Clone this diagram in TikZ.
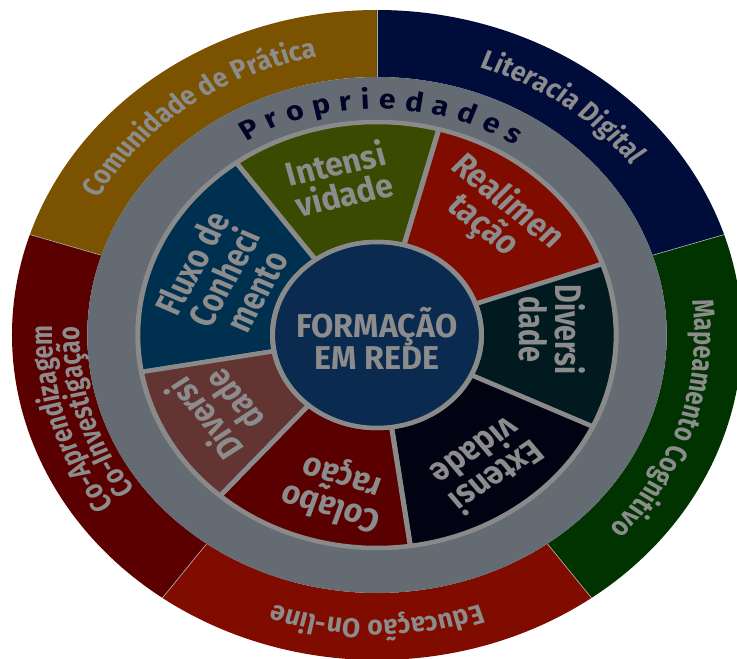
\documentclass[tikz,border=0pt]{standalone}
\usepackage{fontspec}
\setmainfont{Fira Sans}
\newfontfamily\condsans{Fira Sans}[FakeStretch=0.87]
\usetikzlibrary{decorations.text}

\definecolor{ringgrey}{HTML}{646B73}
\definecolor{rimgrey}{HTML}{8A8A8A}
\definecolor{labelgrey}{HTML}{8C8C8C}
\definecolor{propnavy}{HTML}{000528}
\definecolor{comgold}{HTML}{7A5200}
\definecolor{litnavy}{HTML}{000C3A}
\definecolor{mapgreen}{HTML}{003300}
\definecolor{edured}{HTML}{800C00}
\definecolor{coared}{HTML}{5A0000}
\definecolor{fluxblue}{HTML}{003050}
\definecolor{intolive}{HTML}{3A4A00}
\definecolor{realred}{HTML}{800C00}
\definecolor{divteal}{HTML}{001A20}
\definecolor{extblack}{HTML}{020312}
\definecolor{colred}{HTML}{5A0000}
\definecolor{divbrown}{HTML}{623432}
\definecolor{coreblue}{HTML}{0A2A50}

\newcommand{\wedgefont}{\condsans\fontsize{33}{32}\selectfont\bfseries}
\newcommand{\ringfont}{\condsans\fontsize{27}{28}\selectfont\bfseries}
\newcommand{\propfont}{\fontsize{27}{28}\selectfont\bfseries}

\begin{document}
\begin{tikzpicture}[x=1pt, y=1pt,
    wedge/.style={draw=rimgrey, line width=4.5pt, line join=round},
    wedgetext/.style={text=labelgrey, font=\wedgefont, align=center},
    ringtext/.style={decorate, decoration={text along path, text align=center, text color=labelgrey}}
  ]
\clip (-377,-324) rectangle (360,335);
\fill[white] (-377,-324) rectangle (360,335);

\begin{scope}[transform canvas={xscale=1.123}]
% outer ring
\foreach \a/\b/\col in {90/162/comgold, 18/90/litnavy, -54/18/mapgreen, 234/306/edured, 162/234/coared}
  \fill[\col] (\a:325) arc[start angle=\a, end angle=\b, radius=325]
    -- (\b:258) arc[start angle=\b, end angle=\a, radius=258] -- cycle;
\foreach \a in {18,90,162,234,306}
  \draw[rimgrey!70, line width=0.6pt] (\a:258) -- (\a:325);

% grey ring
\fill[ringgrey] (0,0) circle[radius=258];

% wedges
\foreach \a/\b/\col in {126/190/fluxblue, 75/126/intolive, 19.5/75/realred, -25.5/19.5/divteal,
    -82/-25.5/extblack, 229/278/colred, 190/229/divbrown}
  \filldraw[wedge, fill=\col] (\a:93) -- (\a:213) arc[start angle=\a, end angle=\b, radius=213]
    -- (\b:93) arc[start angle=\b, end angle=\a, radius=93] -- cycle;

% centre
\filldraw[wedge, fill=coreblue] (0,0) circle[radius=93];
\node[wedgetext] (core) at (0,-3) {FORMAÇÃO\\EM REDE};

\node[wedgetext, rotate=64] (fluxo) at (157:148) {Fluxo de\\Conheci\\mento};
\node[wedgetext, rotate=14] (intens) at (102:160) {Intensi\\vidade};
\node[wedgetext, rotate=-42] (realim) at (49:160) {Realimen\\tação};
\node[wedgetext, rotate=-90] (diversr) at (2:156) {Diversi\\dade};
\node[wedgetext, rotate=-143] (extens) at (-53:163) {Extensi\\vidade};
\node[wedgetext, rotate=162] (colab) at (257:160) {Colabo\\ração};
\node[wedgetext, rotate=126] (diversl) at (208:160) {Diversi\\dade};

% ring labels
\path[decorate, decoration={text along path, text={|\propfont|Propriedades},
    text align={fit to path}, text color=propnavy}]
  (121:226) arc[start angle=121, end angle=57, radius=226];
\path[ringtext, decoration={text={|\ringfont|Comunidade de Prática}}]
  (162:283) arc[start angle=162, end angle=90, radius=283];
\path[ringtext, decoration={text={|\ringfont|Literacia Digital}}]
  (90:283) arc[start angle=90, end angle=18, radius=283];
\path[ringtext, decoration={text={|\ringfont|Mapeamento Cognitivo}}]
  (18:283) arc[start angle=18, end angle=-54, radius=283];
\path[ringtext, decoration={text={|\ringfont|Educação On-line}}]
  (306:285) arc[start angle=306, end angle=234, radius=285];
\path[ringtext, decoration={text={|\ringfont|Co-Aprendizagem}}]
  (233:289) arc[start angle=233, end angle=161, radius=289];
\path[ringtext, decoration={text={|\ringfont|Co-Investigação}}]
  (233:265) arc[start angle=233, end angle=161, radius=265];
\end{scope}
\end{tikzpicture}
\end{document}
